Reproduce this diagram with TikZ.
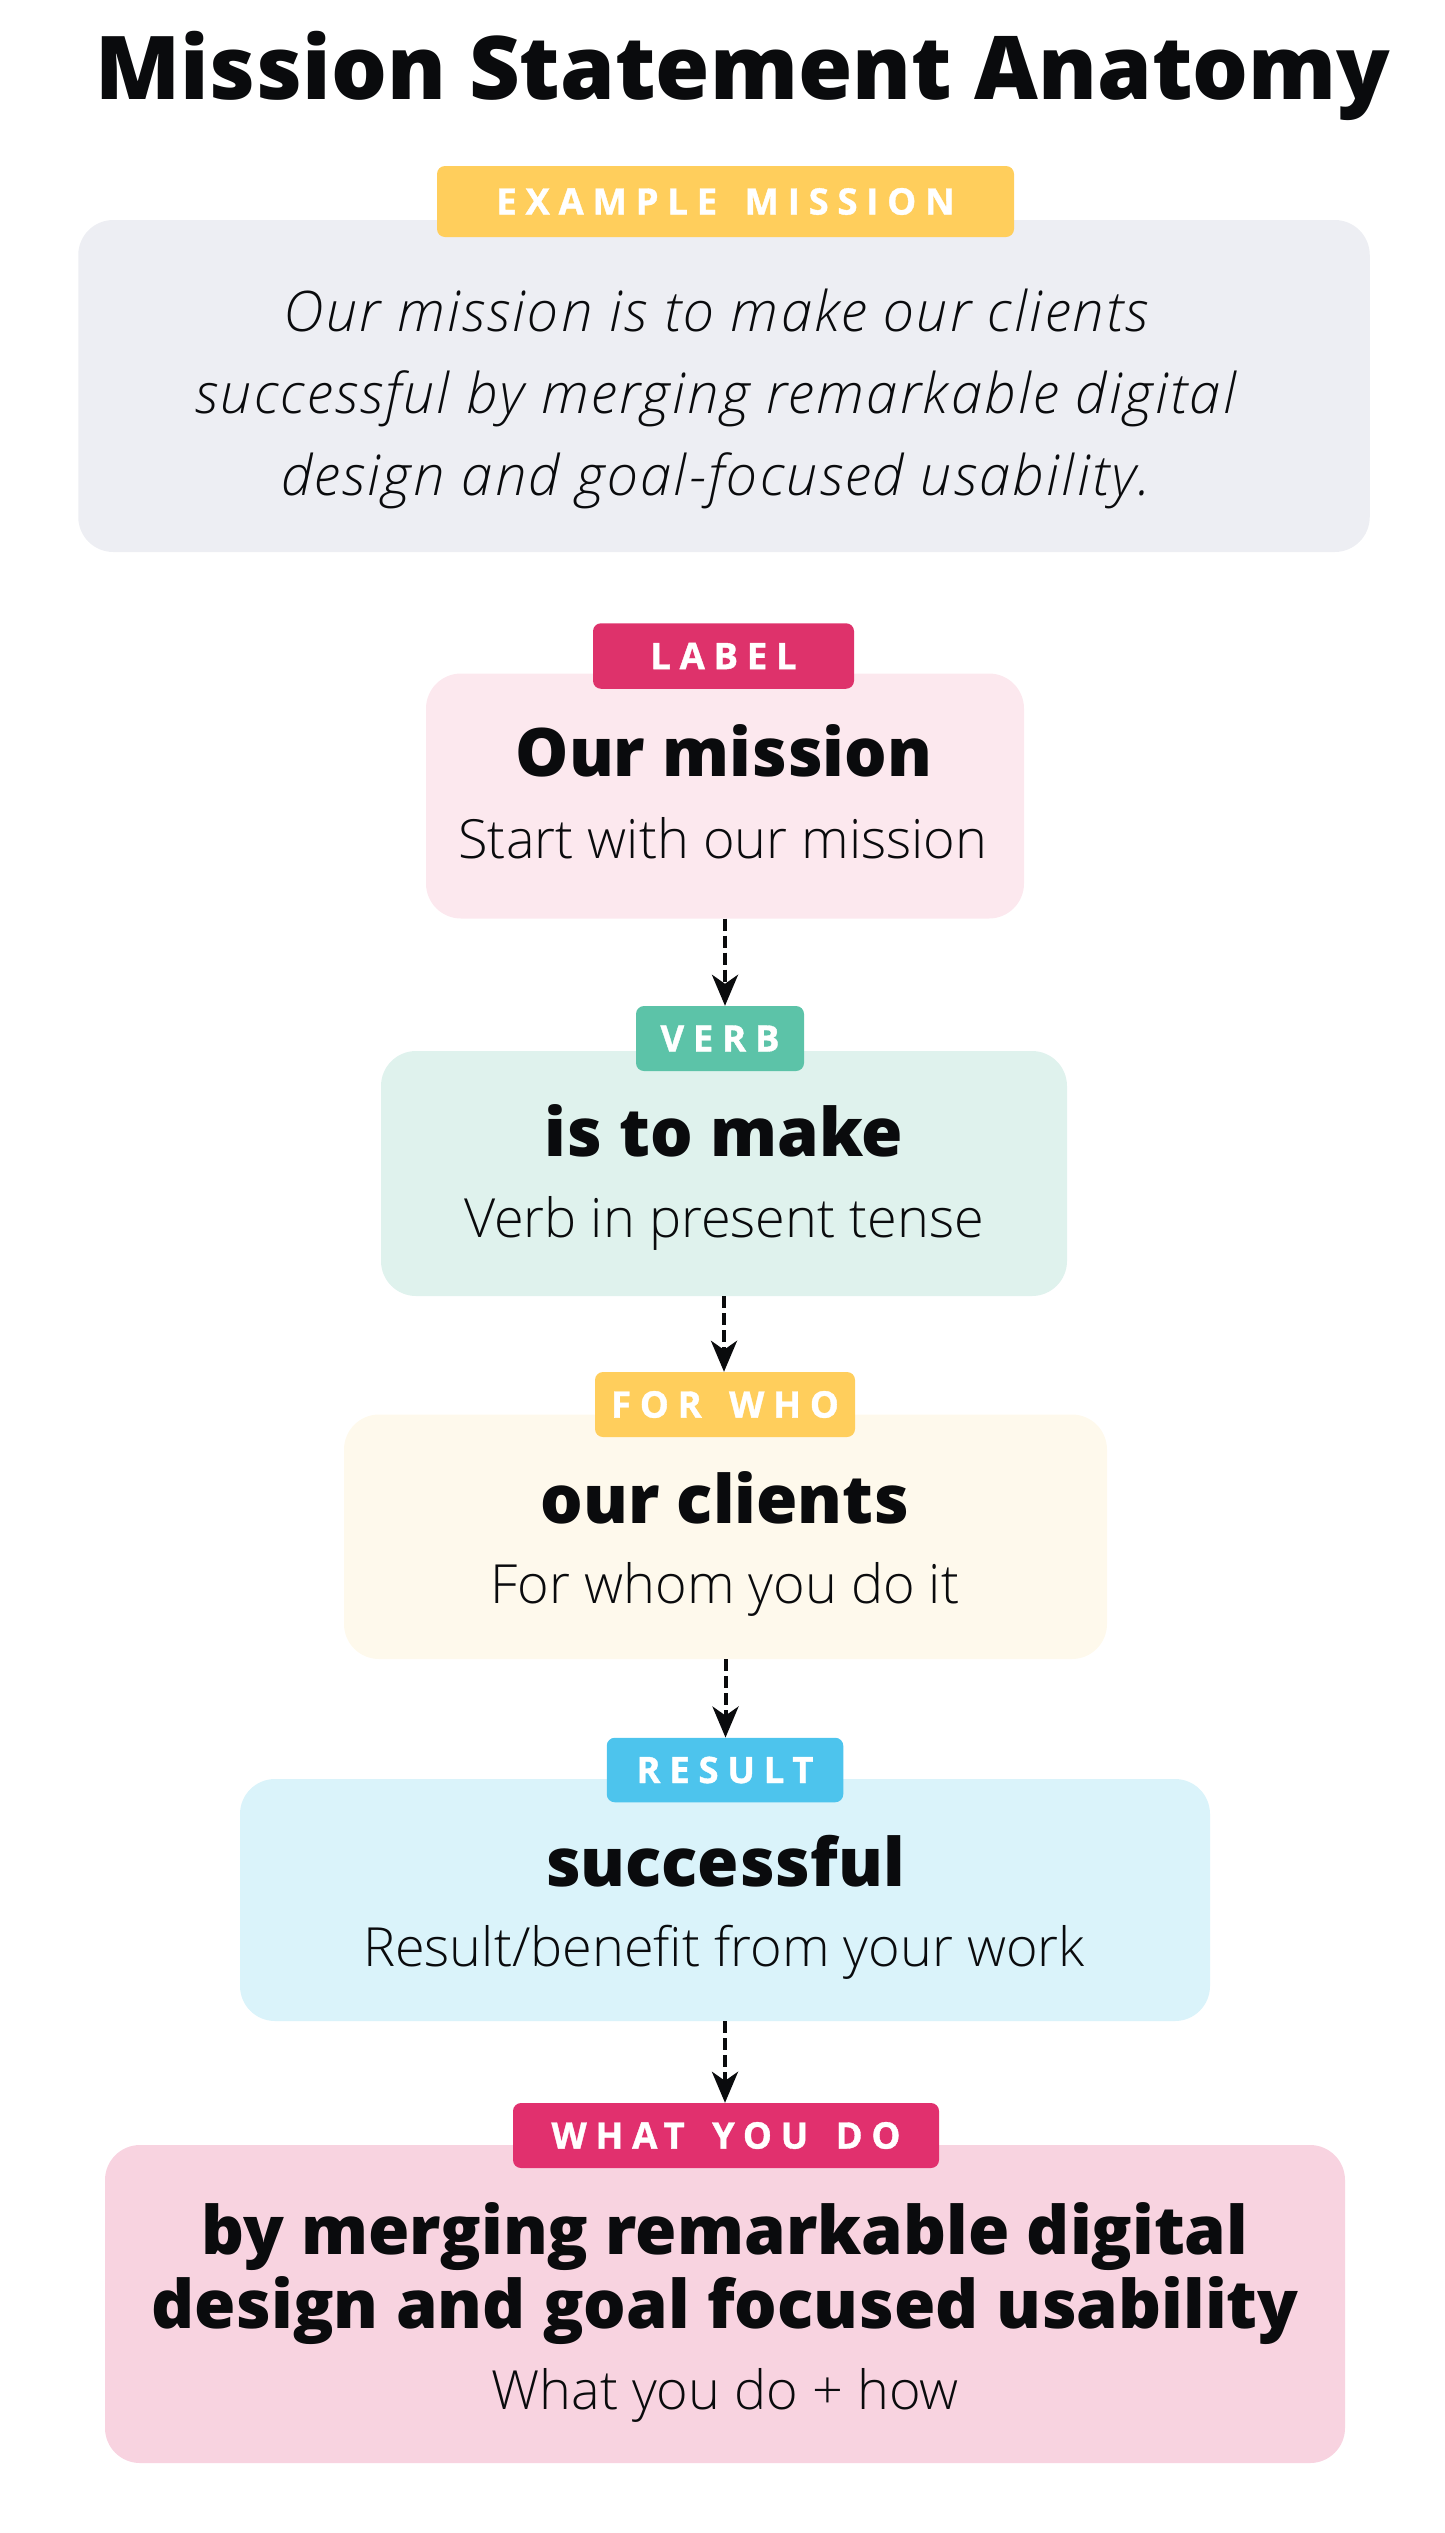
\documentclass[tikz,border=0pt]{standalone}
\usepackage{fontspec}
\setmainfont{Open Sans}
\newfontfamily\tagfam{Open Sans}[LetterSpace=24, FakeBold=1]
\newcommand\tagfont{\tagfam\bfseries}
\newcommand\tagspace{\hspace{0.25em} }
\IfFontExistsTF{Open Sans ExtraBold}
  {\newfontfamily\heavyfam{Open Sans ExtraBold}\newcommand\heavyfont{\heavyfam}}
  {\IfFontExistsTF{Open Sans Extrabold}
    {\newfontfamily\heavyfam{Open Sans Extrabold}\newcommand\heavyfont{\heavyfam}}
    {\newfontfamily\heavyfam{Open Sans}[FakeBold=1.2, FakeStretch=1.04]\newcommand\heavyfont{\heavyfam\bfseries}}}
\IfFontExistsTF{Open Sans Light}
  {\newfontfamily\lightfont{Open Sans Light}}
  {\newfontfamily\lightfont{Open Sans}}
\IfFontExistsTF{Open Sans Light Italic}
  {\newfontfamily\lightitfam{Open Sans Light Italic}[LetterSpace=4.2]\newcommand\lightitfont{\lightitfam}}
  {\newfontfamily\lightitfam{Open Sans}[LetterSpace=4.2]\newcommand\lightitfont{\lightitfam\itshape}}
\usetikzlibrary{arrows.meta}

\newlength{\du}
\setlength{\du}{1pt}

\definecolor{inkcolor}{rgb}{0.040000, 0.043000, 0.051000}
\definecolor{examplegold}{rgb}{1.000000, 0.808000, 0.361000}
\definecolor{examplegrey}{rgb}{0.929000, 0.933000, 0.953000}
\definecolor{labelred}{rgb}{0.871000, 0.196000, 0.420000}
\definecolor{labelpink}{rgb}{0.988000, 0.910000, 0.933000}
\definecolor{verbgreen}{rgb}{0.361000, 0.765000, 0.659000}
\definecolor{verbmint}{rgb}{0.875000, 0.949000, 0.929000}
\definecolor{whocream}{rgb}{0.996000, 0.976000, 0.925000}
\definecolor{resultblue}{rgb}{0.302000, 0.769000, 0.929000}
\definecolor{resultsky}{rgb}{0.855000, 0.953000, 0.980000}
\definecolor{doingred}{rgb}{0.882000, 0.188000, 0.431000}
\definecolor{doingpink}{rgb}{0.973000, 0.827000, 0.878000}

\tikzset{
  panel/.style={rectangle, rounded corners=35\du, inner sep=0pt, draw=none},
  tagbox/.style={rectangle, rounded corners=8\du, inner sep=0pt, draw=none, text=white,
    font=\tagfont\fontsize{36.5}{40}\selectfont},
  titletext/.style={anchor=base, inner sep=0pt, text=inkcolor, font=\heavyfont\fontsize{88}{100}\selectfont},
  quotetext/.style={anchor=base, inner sep=0pt, text=inkcolor, font=\lightitfont\fontsize{56}{82}\selectfont},
  headtext/.style={anchor=base, inner sep=0pt, text=inkcolor, font=\heavyfont\fontsize{67}{74}\selectfont},
  subtext/.style={anchor=base, inner sep=0pt, text=inkcolor, font=\lightfont\fontsize{54}{66}\selectfont},
  flow/.style={draw=inkcolor, line width=4pt, dash pattern=on 12pt off 5pt,
    -{Stealth[length=31pt, width=26pt, inset=9pt]}}
}

\begin{document}
\begin{tikzpicture}
\pgftransformyscale{-1.000000}
\useasboundingbox (0\du,0\du) rectangle (1445\du,2533\du);
% title
\node[titletext] (title) at (743\du,99.6\du){Mission Statement Anatomy};
% example mission
\node[panel, fill=examplegrey, minimum width=1291.5\du, minimum height=332\du] (example) at (724\du,386\du){};
\node[tagbox, fill=examplegold, minimum width=577\du, minimum height=71\du] (exampletag) at (725.5\du,201.5\du){EXAMPLE\tagspace MISSION};
\node[quotetext] (quoteA) at (716\du,331\du){Our mission is to make our clients};
\node[quotetext] (quoteB) at (716\du,413\du){successful by merging remarkable digital};
\node[quotetext] (quoteC) at (716\du,495\du){design and goal-focused usability.};
% label
\node[panel, fill=labelpink, minimum width=598\du, minimum height=245\du] (mission) at (725\du,796\du){};
\node[tagbox, fill=labelred, minimum width=261\du, minimum height=65.5\du] (missiontag) at (723.5\du,656\du){LABEL};
\node[headtext] (missionhead) at (724\du,776\du){Our mission};
\node[subtext] (missionsub) at (723\du,858\du){Start with our mission};
% verb
\node[panel, fill=verbmint, minimum width=686\du, minimum height=245\du] (verb) at (724\du,1173.5\du){};
\node[tagbox, fill=verbgreen, minimum width=168\du, minimum height=65\du] (verbtag) at (720\du,1038.5\du){VERB};
\node[headtext] (verbhead) at (724\du,1156\du){is to make};
\node[subtext] (verbsub) at (724\du,1237\du){Verb in present tense};
% for who
\node[panel, fill=whocream, minimum width=763\du, minimum height=244.5\du] (who) at (725.5\du,1536.75\du){};
\node[tagbox, fill=examplegold, minimum width=260\du, minimum height=65\du] (whotag) at (725\du,1404.5\du){FOR\tagspace WHO};
\node[headtext] (whohead) at (725\du,1523\du){our clients};
\node[subtext] (whosub) at (725\du,1603\du){For whom you do it};
% result
\node[panel, fill=resultsky, minimum width=970\du, minimum height=242\du] (result) at (725\du,1900\du){};
\node[tagbox, fill=resultblue, minimum width=236.5\du, minimum height=64.5\du] (resulttag) at (725\du,1770\du){RESULT};
\node[headtext] (resulthead) at (725\du,1886\du){successful};
\node[subtext] (resultsub) at (724\du,1966\du){Result/benefit from your work};
% what you do
\node[panel, fill=doingpink, minimum width=1240\du, minimum height=318\du] (doing) at (725\du,2304\du){};
\node[tagbox, fill=doingred, minimum width=426\du, minimum height=65\du] (doingtag) at (726\du,2135.5\du){WHAT\tagspace YOU\tagspace DO};
\node[headtext] (doingheadA) at (725\du,2254\du){by merging remarkable digital};
\node[headtext] (doingheadB) at (725\du,2328\du){design and goal focused usability};
\node[subtext] (doingsub) at (725\du,2409\du){What you do + how};
% connectors
\draw[flow] (mission.south) -- (mission.south |- verbtag.north);
\draw[flow] (verb.south) -- (verb.south |- whotag.north);
\draw[flow] (who.south) -- (who.south |- resulttag.north);
\draw[flow] (result.south) -- (result.south |- doingtag.north);
\end{tikzpicture}
\end{document}
